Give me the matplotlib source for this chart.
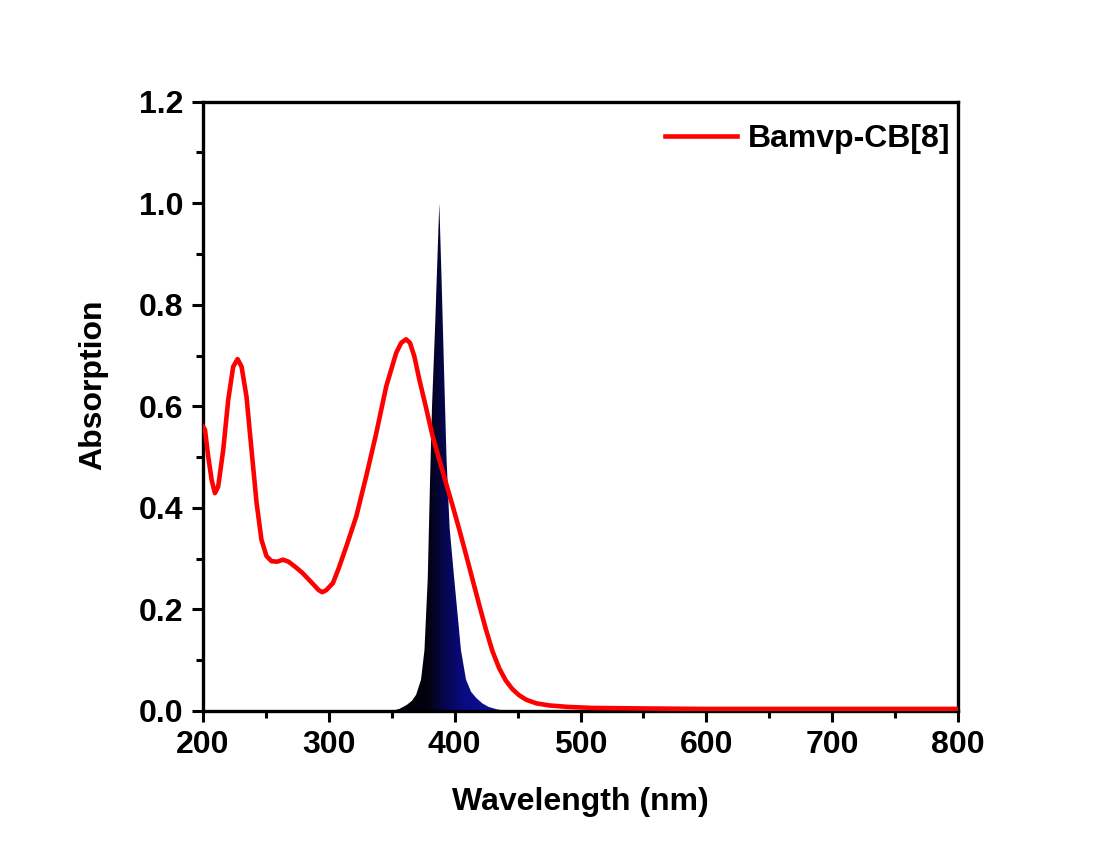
import matplotlib
matplotlib.use("Agg")
import matplotlib.pyplot as plt
import numpy as np
from matplotlib.colors import LinearSegmentedColormap

plt.rcParams['font.family'] = ['Liberation Sans', 'DejaVu Sans']
plt.rcParams['font.weight'] = 'bold'

# absorption spectrum (red)
abs_wl = [200, 201.6, 204.2, 206.9, 209.5, 212.1, 216.1, 220.1, 224, 227.5, 230.7, 234.6, 238.6,
          242.6, 246.5, 250.5, 254.5, 259, 263.6, 268, 274.3, 279, 284.8, 289, 292, 294.9, 298,
          303.3, 308, 313.9, 321.8, 329.7, 337.7, 345.6, 353.5, 357.5, 361.4, 364.5, 368, 372,
          377, 382.5, 387.8, 393.1, 398.5, 403.7, 409, 414.2, 419.5, 424.9, 430, 435.4, 440.6,
          445.9, 451.2, 457, 465, 475, 490, 510, 550, 600, 700, 800]
abs_val = [0.56, 0.554, 0.501, 0.455, 0.429, 0.442, 0.514, 0.613, 0.678, 0.693, 0.678, 0.619, 0.514,
           0.410, 0.337, 0.305, 0.295, 0.294, 0.298, 0.294, 0.282, 0.272, 0.257, 0.246, 0.238, 0.234, 0.238,
           0.252, 0.282, 0.324, 0.383, 0.462, 0.547, 0.639, 0.705, 0.725, 0.732, 0.725, 0.698, 0.652,
           0.6, 0.541, 0.495, 0.449, 0.403, 0.357, 0.308, 0.259, 0.209, 0.160, 0.118, 0.084, 0.06,
           0.043, 0.031, 0.022, 0.015, 0.011, 0.008, 0.006, 0.005, 0.004, 0.004, 0.004]

# LED emission peak (gradient fill)
em_wl = [350, 356, 362, 366, 369.4, 373.3, 376, 378.6, 380.4, 382, 384.5, 386, 387.8, 389.6, 391.8,
         393.5, 396, 399.7, 405, 409, 413, 417, 422, 427, 434, 442]
em_val = [0.0, 0.004, 0.012, 0.02, 0.032, 0.062, 0.12, 0.26, 0.45, 0.6, 0.76, 0.87, 1.0, 0.85, 0.65,
          0.5, 0.36, 0.259, 0.12, 0.062, 0.038, 0.026, 0.015, 0.008, 0.003, 0.0]

fig = plt.figure(figsize=(11, 8.43), dpi=100)
ax = fig.add_axes([0.1845, 0.1566, 0.6865, 0.7228])

# gradient-filled emission band, black on the left to navy on the right
poly = ax.fill_between(em_wl, 0, em_val, color='none', lw=0)
cmap = LinearSegmentedColormap.from_list(
    'bk_navy', [(0, '#000000'), (0.32, '#020210'), (0.45, '#06064a'),
                (0.62, '#0a0a80'), (1, '#1010a8')])
grad = np.linspace(0, 1, 256).reshape(1, -1)
img = ax.imshow(grad, cmap=cmap, aspect='auto', extent=[350, 440, 0, 1.0],
                origin='lower', zorder=1)
img.set_clip_path(poly.get_paths()[0], transform=ax.transData)

ax.plot(abs_wl, abs_val, color='#ff0000', lw=3.3, label='Bamvp-CB[8]', zorder=3,
        solid_joinstyle='round')

ax.set_xlim(200, 800)
ax.set_ylim(0, 1.2)
ax.set_xticks(np.arange(200, 801, 100))
ax.set_xticks(np.arange(250, 800, 100), minor=True)
ax.set_yticks(np.arange(0, 1.21, 0.2))
ax.set_yticks(np.arange(0.1, 1.2, 0.2), minor=True)
ax.set_yticklabels(['%.1f' % v for v in np.arange(0, 1.21, 0.2)])

ax.tick_params(which='major', direction='out', length=8, width=2.2, labelsize=23, pad=6)
ax.tick_params(which='minor', direction='out', length=5, width=2.2)
for s in ax.spines.values():
    s.set_linewidth(2.4)

ax.set_xlabel('Wavelength (nm)', fontsize=23, fontweight='bold', labelpad=19)
ax.set_ylabel('Absorption', fontsize=23, fontweight='bold')
ax.yaxis.set_label_coords(-0.125, 0.535)

leg = ax.legend(loc='upper right', bbox_to_anchor=(1.02, 1.0), frameon=False, fontsize=23,
                handlelength=2.25, handletextpad=0.35, borderaxespad=0.3)

fig.savefig('out.png', dpi=100, facecolor='white')
